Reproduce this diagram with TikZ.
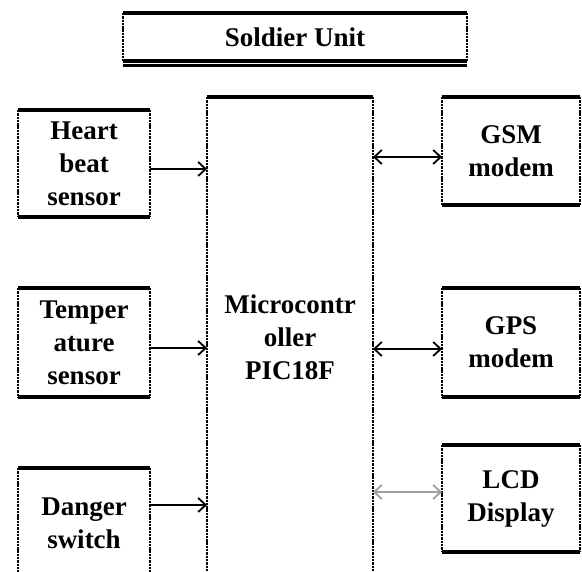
\documentclass[tikz,border=0pt]{standalone}
\usepackage{fontspec}
\setmainfont{Liberation Serif}
\usetikzlibrary{arrows.meta}

\begin{document}
\begin{tikzpicture}[x=1pt, y=-1pt,
    >={Straight Barb[length=7.5pt,width=14pt,line width=1.8pt]},
    blk/.style={rectangle, inner sep=0pt, outer sep=0pt, align=center,
        font=\fontsize{27}{33}\selectfont\bfseries},
    edge/.style={line width=3.6pt},
    side/.style={line width=2.4pt, dash pattern=on 2.4pt off 0.9pt},
    link/.style={line width=1.2pt}
]
    \useasboundingbox (0,0) rectangle (582,572);
    \clip (0,0) rectangle (582,572);

    \node[blk, minimum width=344pt, minimum height=48pt] (title) at (295, 37) {Soldier Unit};

    \node[blk, minimum width=132pt, minimum height=107pt] (heart) at (84, 163.5) {Heart\\beat\\sensor};
    \node[blk, minimum width=132pt, minimum height=109pt] (temp) at (84, 342.5) {Temper\\ature\\sensor};
    \node[blk, minimum width=132pt, minimum height=110pt] (danger) at (84, 523) {Danger\\switch};

    \node[blk, minimum width=166pt, minimum height=480pt] (micro) at (290, 337) {Microcontr\\oller\\PIC18F};

    \node[blk, minimum width=138pt, minimum height=108pt] (gsm) at (511, 151) {GSM\\modem};
    \node[blk, minimum width=138pt, minimum height=109pt] (gps) at (511, 342.5) {GPS\\modem};
    \node[blk, minimum width=138pt, minimum height=107pt] (lcd) at (511, 498.5) {LCD\\Display};

    % box borders: heavy top and bottom, broken sides
    \foreach \n in {title,heart,temp,danger,micro,gsm,gps,lcd}{
        \draw[edge] (\n.north west) -- (\n.north east);
        \draw[edge] (\n.south west) -- (\n.south east);
        \draw[side] (\n.north west) -- (\n.south west);
        \draw[side] (\n.north east) -- (\n.south east);
    }
    \draw[line width=2.4pt] ([yshift=-4.5pt]title.south west) -- ([yshift=-4.5pt]title.south east);

    % sensors to controller
    \draw[link, ->] ([yshift=-5.5pt]heart.east) -- ([yshift=-5.5pt]heart.east -| micro.west);
    \draw[link, ->] ([yshift=-5.5pt]temp.east) -- ([yshift=-5.5pt]temp.east -| micro.west);
    \draw[link, ->] ([yshift=18pt]danger.east) -- ([yshift=18pt]danger.east -| micro.west);

    % controller to modules
    \draw[link, <->] ([yshift=-6pt]gsm.west -| micro.east) -- ([yshift=-6pt]gsm.west);
    \draw[link, <->] ([yshift=-6.5pt]gps.west -| micro.east) -- ([yshift=-6.5pt]gps.west);
    \draw[link, <->, gray!75, line width=2pt] ([yshift=6.5pt]lcd.west -| micro.east) -- ([yshift=6.5pt]lcd.west);
\end{tikzpicture}
\end{document}
